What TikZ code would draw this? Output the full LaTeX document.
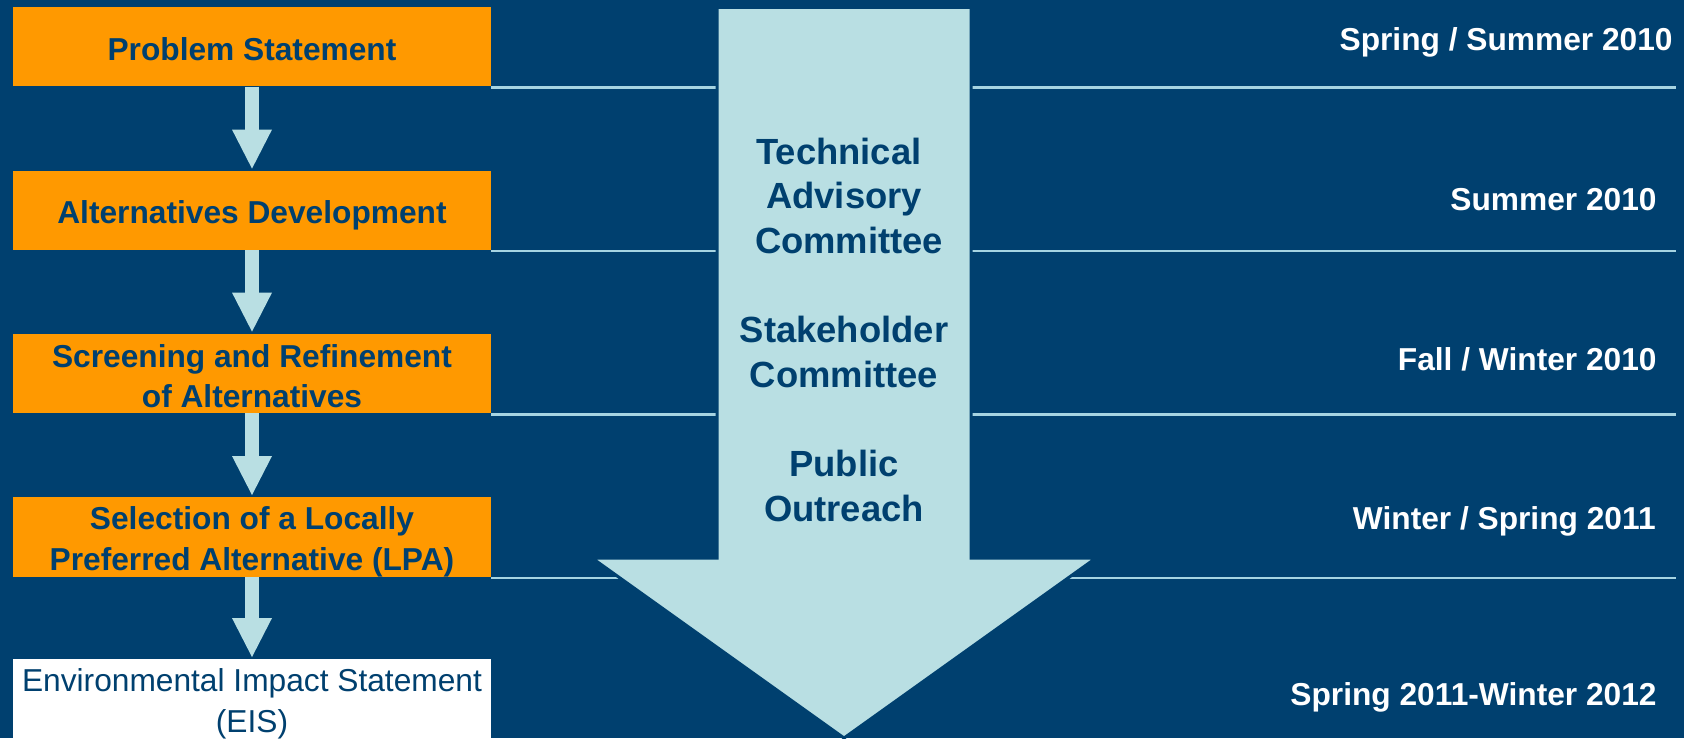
\documentclass[tikz,border=0pt]{standalone}
\usepackage{fontspec}
\setmainfont{Liberation Sans}
\usetikzlibrary{arrows.meta}
\definecolor{bgblue}{HTML}{00406F}
\definecolor{stageorange}{HTML}{FF9900}
\definecolor{paleblue}{HTML}{B9DFE3}
\definecolor{rulecol}{HTML}{A6D4E2}
\newcommand{\stagestrut}{\rule[-2pt]{0pt}{18pt}}
\tikzstyle{stage}=[rectangle, fill=stageorange, minimum width=239pt, minimum height=39.5pt, inner sep=0pt, align=center, text=bgblue, font=\fontsize{15.85}{18.7}\selectfont\bfseries]
\tikzstyle{eis} = [stage, fill=white, minimum height=39pt, font=\fontsize{15.85}{18.5}\selectfont]
\tikzstyle{flow} = [draw, line width=6.75pt, paleblue, -{Triangle[width=20pt, length=19.5pt, line width=0pt]}, shorten >=1pt]
\tikzstyle{sep} = [draw, line width=1.2pt, rulecol]
\tikzstyle{group} = [align=center, inner sep=0pt, text=bgblue, font=\fontsize{18.2}{22.35}\selectfont\bfseries]
\tikzstyle{when} = [anchor=base east, inner sep=0pt, text=white, font=\fontsize{15.85}{19}\selectfont\bfseries]

\begin{document}
\begin{tikzpicture}[x=0.5pt, y=-0.5pt]

	\useasboundingbox (0,0) rectangle (1684,738);
	\fill[bgblue] (0,0) rectangle (1684,738);

	% separators between the phases
	\foreach \yy in {87.5, 251, 414.5, 578}{
		\draw[sep] (491,\yy) -- (1676,\yy);
	}

	% big arrow in the middle
	\fill[paleblue, draw=bgblue, line width=1.5pt] (717,7.5) -- (971,7.5) -- (971,558) -- (1096,558)
		-- (844,738) -- (592,558) -- (717,558) -- cycle;

	\node[group] (tac) at (844,195.75) {Technical\kern0.28em\\Advisory\\\kern0.28em Committee};
	\node[group] (stk) at (844,352) {Stakeholder\\Committee};
	\node[group] (pub) at (844,486) {Public\\Outreach};

	% phases
	\node[stage] (ps) at (252,46.75) {\stagestrut Problem Statement};
	\node[stage] (ad) at (252,210.5) {\stagestrut Alternatives Development};
	\node[stage] (sr) at (252,373.5) {\stagestrut Screening and Refinement\\\stagestrut of Alternatives};
	\node[stage] (lpa) at (252,537) {\stagestrut Selection of a Locally\\\stagestrut Preferred Alternative (LPA)};
	\node[eis] (eis) at (252,699) {\stagestrut Environmental Impact Statement\\\stagestrut (EIS)};

	\draw[flow] (ps) -- (ad);
	\draw[flow] (ad) -- (sr);
	\draw[flow] (sr) -- (lpa);
	\draw[flow] (lpa) -- (eis);

	% dates
	\node[when] (t1) at (1673,50.7) {Spring / Summer 2010};
	\node[when] (t2) at (1657,210) {Summer 2010};
	\node[when] (t3) at (1657,370) {Fall / Winter 2010};
	\node[when] (t4) at (1656,529) {Winter / Spring 2011};
	\node[when] (t5) at (1657,705) {Spring 2011-Winter 2012};

\end{tikzpicture}
\end{document}
